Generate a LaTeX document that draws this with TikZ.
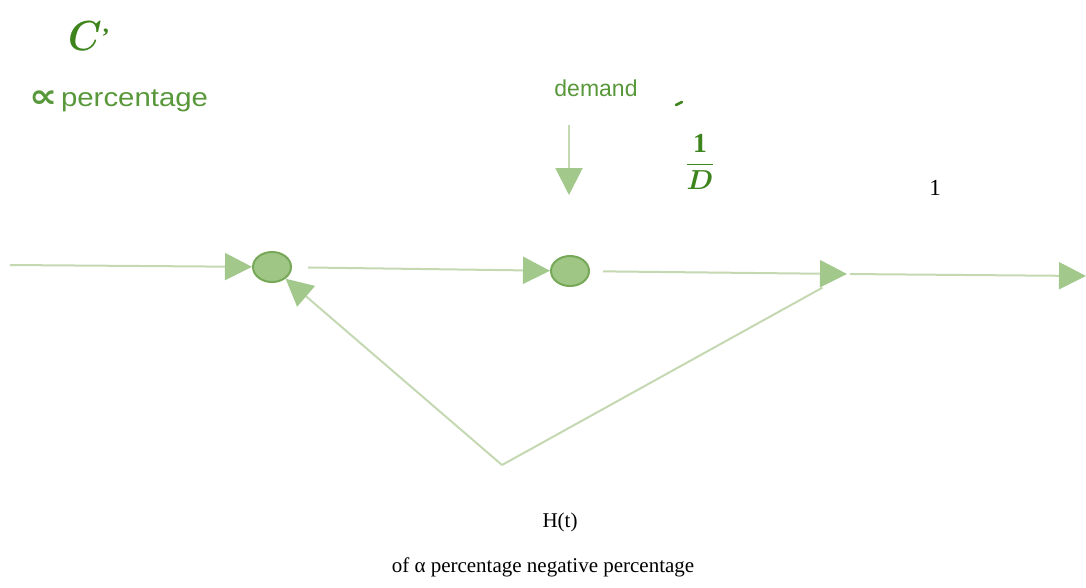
\documentclass[tikz,border=0pt]{standalone}
\usepackage{amsmath}
\usepackage{fontspec}
\setmainfont{Liberation Serif}
\newfontfamily\arialfont{Liberation Sans}
\newfontfamily\djv{DejaVu Sans}
\usetikzlibrary{arrows.meta,shapes.geometric}
\definecolor{txtgreen}{RGB}{88,152,58}
\definecolor{cgreen}{RGB}{62,132,28}
\definecolor{linegreen}{RGB}{196,216,178}
\definecolor{headgreen}{RGB}{162,200,140}
\definecolor{nodefill}{RGB}{160,198,134}
\definecolor{nodeborder}{RGB}{118,168,88}
\tikzset{
  sumnode/.style={ellipse, draw=nodeborder, fill=nodefill, line width=2pt, minimum width=38pt, minimum height=30pt, inner sep=0pt},
  flow/.style={draw=linegreen, line width=2pt, -{Triangle[length=27pt,width=27pt,fill=headgreen,color=headgreen]}},
  plain/.style={draw=linegreen, line width=2pt},
  greentext/.style={text=txtgreen, font=\arialfont\fontsize{22}{26}\selectfont, inner sep=0pt},
  blacktext/.style={text=black, font=\fontsize{21}{25}\selectfont, inner sep=0pt}
}
\begin{document}
\begin{tikzpicture}[x=1pt,y=-1pt]
\useasboundingbox (0,0) rectangle (1086,587);
% nodes
\node[sumnode] (e1) at (272,267) {};
\node[sumnode] (e2) at (570,271) {};
\coordinate (src) at (10,265);
\coordinate (j) at (847,274);
\coordinate (out) at (1086,276);
\coordinate (b) at (502,465);
\coordinate (dtop) at (569,125);
\coordinate (dtip) at (569,195);
% connectors
\draw[flow] (src) -- (e1);
\draw[flow, shorten <=16pt] (e1) -- (e2);
\draw[flow, shorten <=13pt] (e2) -- (j);
\draw[flow, shorten <=3pt] (j) -- (out);
\draw[plain, shorten >=28pt] (b) -- (j);
\draw[flow] (b) -- (e1);
\draw[flow] (dtop) -- (dtip);
% texts
\node[anchor=base west, inner sep=0pt, text=cgreen] (cp) at (68,50)
  {\scalebox{3.8}[4.2]{$\boldsymbol{C}$}\hspace{1pt}\raisebox{18pt}{\scalebox{2.4}{\bfseries ,}}};
\node[greentext, anchor=west] (prop) at (29,101)
  {\raisebox{-1pt}{\scalebox{1.8}[1.5]{\djv\bfseries ∝}}\,\scalebox{1.13}[1]{\fontsize{26}{30}\selectfont percentage}};
\node[greentext] (dem) at (596,88) {\fontsize{23}{27}\selectfont demand};
\draw[cgreen, line width=2.5pt, line cap=round] (676,105) -- (682,102);
\node[text=cgreen, inner sep=0pt] (frac) at (700,162)
  {\scalebox{2.75}{$\displaystyle\frac{\mathbf{1}}{\boldsymbol{D}}$}};
\node[blacktext] (one) at (935,188) {\fontsize{23}{27}\selectfont 1};
\node[blacktext] (ht) at (560,522) {H(t)};
\node[blacktext] (bot) at (543,567) {of α percentage negative percentage};
\end{tikzpicture}
\end{document}
